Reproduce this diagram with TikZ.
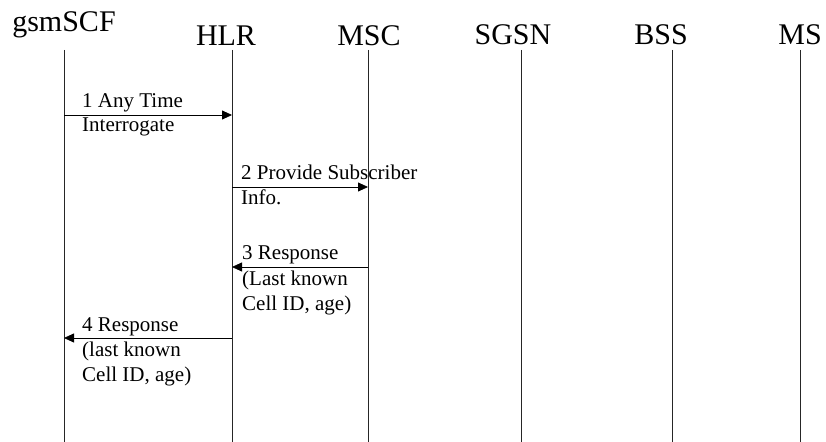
\documentclass[tikz,border=0pt]{standalone}
\usepackage{fontspec}
\setmainfont{Liberation Serif}
\usetikzlibrary{arrows.meta}
\begin{document}
\begin{tikzpicture}[x=1bp,y=-1bp,
  head/.style={font=\fontsize{30bp}{34bp}\selectfont, inner sep=0pt, anchor=base},
  lifeline/.style={line width=0.8bp, draw=black!85},
  msg/.style={line width=0.8bp, -{Triangle[length=10bp,width=9bp]}},
  lbl/.style={font=\fontsize{21bp}{25bp}\selectfont, inner sep=0pt, anchor=base west}]
\useasboundingbox (0,0) rectangle (826,442);
% headers
\node[head] (hscf) at (64,32) {gsmSCF};
\node[head] (hhlr) at (226,46) {HLR};
\node[head] (hmsc) at (369,46) {MSC};
\node[head] (hsgsn) at (513,45) {SGSN};
\node[head] (hbss) at (661,45) {BSS};
\node[head] (hms) at (800,45) {MS};
% lifelines
\foreach \n/\x in {scf/64, hlr/232, msc/368, sgsn/521, bss/672, ms/800}{
  \coordinate (\n top) at (\x,50);
  \coordinate (\n bot) at (\x,442);
  \draw[lifeline] (\n top) -- (\n bot);
}
% message end points
\coordinate (m1a) at (64,115);  \coordinate (m1b) at (232,115);
\coordinate (m2a) at (232,187); \coordinate (m2b) at (368,187);
\coordinate (m3a) at (368,267); \coordinate (m3b) at (232,267);
\coordinate (m4a) at (232,338); \coordinate (m4b) at (64,338);
\draw[msg] (m1a) -- (m1b);
\draw[msg] (m2a) -- (m2b);
\draw[msg] (m3a) -- (m3b);
\draw[msg] (m4a) -- (m4b);
% labels
\node[lbl] (l1a) at (82,108) {1 Any Time};
\node[lbl] (l1b) at (82,132) {Interrogate};
\node[lbl] (l2a) at (241,180) {2 Provide Subscriber};
\node[lbl] (l2b) at (241,205) {Info.};
\node[lbl] (l3a) at (242,260) {3 Response};
\node[lbl] (l3b) at (242,286) {(Last known};
\node[lbl] (l3c) at (242,311) {Cell ID, age)};
\node[lbl] (l4a) at (82,332) {4 Response};
\node[lbl] (l4b) at (82,357) {(last known};
\node[lbl] (l4c) at (82,382) {Cell ID, age)};
\end{tikzpicture}
\end{document}
